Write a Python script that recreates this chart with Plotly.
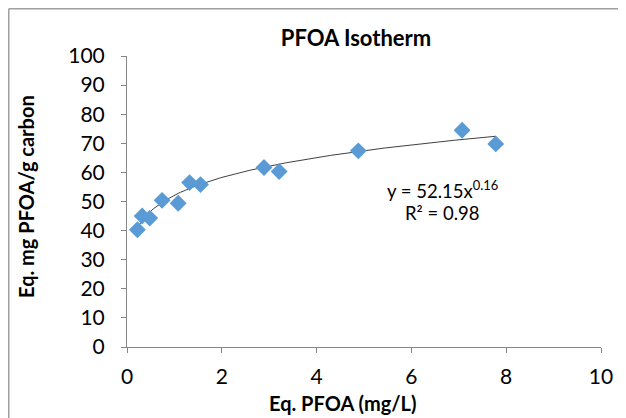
import numpy as np
import plotly.graph_objects as go

# Data
ce = [0.22, 0.32, 0.48, 0.74, 1.08, 1.32, 1.55, 2.89, 3.21, 4.88, 7.07, 7.78]
qe = [40.3, 45.0, 44.3, 50.4, 49.4, 56.5, 55.8, 61.7, 60.3, 67.4, 74.5, 69.8]

# Power trendline from the displayed equation
coef_a = 52.15
coef_b = 0.16
x_fit = np.linspace(min(ce), max(ce), 200)
y_fit = coef_a * x_fit ** coef_b

x_ticks = [0, 2, 4, 6, 8, 10]
y_ticks = [0, 10, 20, 30, 40, 50, 60, 70, 80, 90, 100]

FONT = "Lato"
AX = "#868686"

# page body has an 8px offset; figure is sized to fill the rest of the window
W, H = 618, 410
ML, MR, MT, MB = 119, 25, 48, 71
PW, PH = W - ML - MR, H - MT - MB
OFF = 8


def px_to_paper_x(sx):
    return (sx - OFF - ML) / PW


def px_to_paper_y(sy):
    return (H - MB - (sy - OFF)) / PH


fig = go.Figure()
fig.add_trace(go.Scatter(x=x_fit, y=y_fit, mode="lines",
                         line=dict(color="#404040", width=1), hoverinfo="skip",
                         showlegend=False))
fig.add_trace(go.Scatter(x=ce, y=qe, mode="markers",
                         marker=dict(symbol="diamond", size=13, color="#5B9BD5"),
                         showlegend=False))

fig.update_layout(
    width=W, height=H,
    margin=dict(l=ML, r=MR, t=MT, b=MB, autoexpand=False),
    paper_bgcolor="white", plot_bgcolor="white",
    font=dict(family=FONT, color="#000000"),
    title=dict(text="<b>PFOA Isotherm</b>", x=(356 - OFF) / W, xanchor="center",
               y=1 - 30 / H, yanchor="middle", font=dict(size=22, family=FONT)),
    xaxis=dict(range=[0, 10], tickvals=x_ticks, ticktext=[str(v) for v in x_ticks],
               showgrid=False, zeroline=False, showline=True, linecolor=AX, linewidth=1,
               ticks="outside", ticklen=5, tickcolor=AX, automargin=False,
               ticklabelstandoff=6,
               tickfont=dict(size=21, family=FONT)),
    yaxis=dict(range=[0, 100], tickvals=y_ticks, ticktext=[str(v) for v in y_ticks],
               showgrid=False, zeroline=False, showline=True, linecolor=AX, linewidth=1,
               ticks="outside", ticklen=5, tickcolor=AX, automargin=False,
               ticklabelstandoff=12,
               tickfont=dict(size=21, family=FONT)),
)

# Axis titles
fig.add_annotation(x=px_to_paper_x(342), y=px_to_paper_y(403), xref="paper", yref="paper",
                   showarrow=False, text="<b>Eq. PFOA (mg/L)</b>",
                   font=dict(size=20, family=FONT), xanchor="center", yanchor="middle")
fig.add_annotation(x=px_to_paper_x(26), y=px_to_paper_y(197), xref="paper", yref="paper",
                   showarrow=False, text="<b>Eq. mg PFOA/g carbon</b>", textangle=-90,
                   font=dict(size=20, family=FONT), xanchor="center", yanchor="middle")

# Chart frame (left and top edges visible)
fx = (0.75 - ML) / PW
fy = (PH + MT - 0.75) / PH
fig.add_shape(type="line", xref="paper", yref="paper",
              x0=fx, x1=fx, y0=-MB / PH - 0.05, y1=fy,
              line=dict(color="#A0A0A0", width=1.5))
fig.add_shape(type="line", xref="paper", yref="paper",
              x0=fx, x1=(W - ML) / PW + 0.05, y0=fy, y1=fy,
              line=dict(color="#A0A0A0", width=1.5))

fig.add_annotation(x=6.65, y=54.0, xref="x", yref="y", showarrow=False,
                   text="y = 52.15x<sup>0.16</sup>", font=dict(size=18.5, family=FONT))
fig.add_annotation(x=6.65, y=46.0, xref="x", yref="y", showarrow=False,
                   text="R² = 0.98", font=dict(size=18.5, family=FONT))

fig.write_html("out.html")
